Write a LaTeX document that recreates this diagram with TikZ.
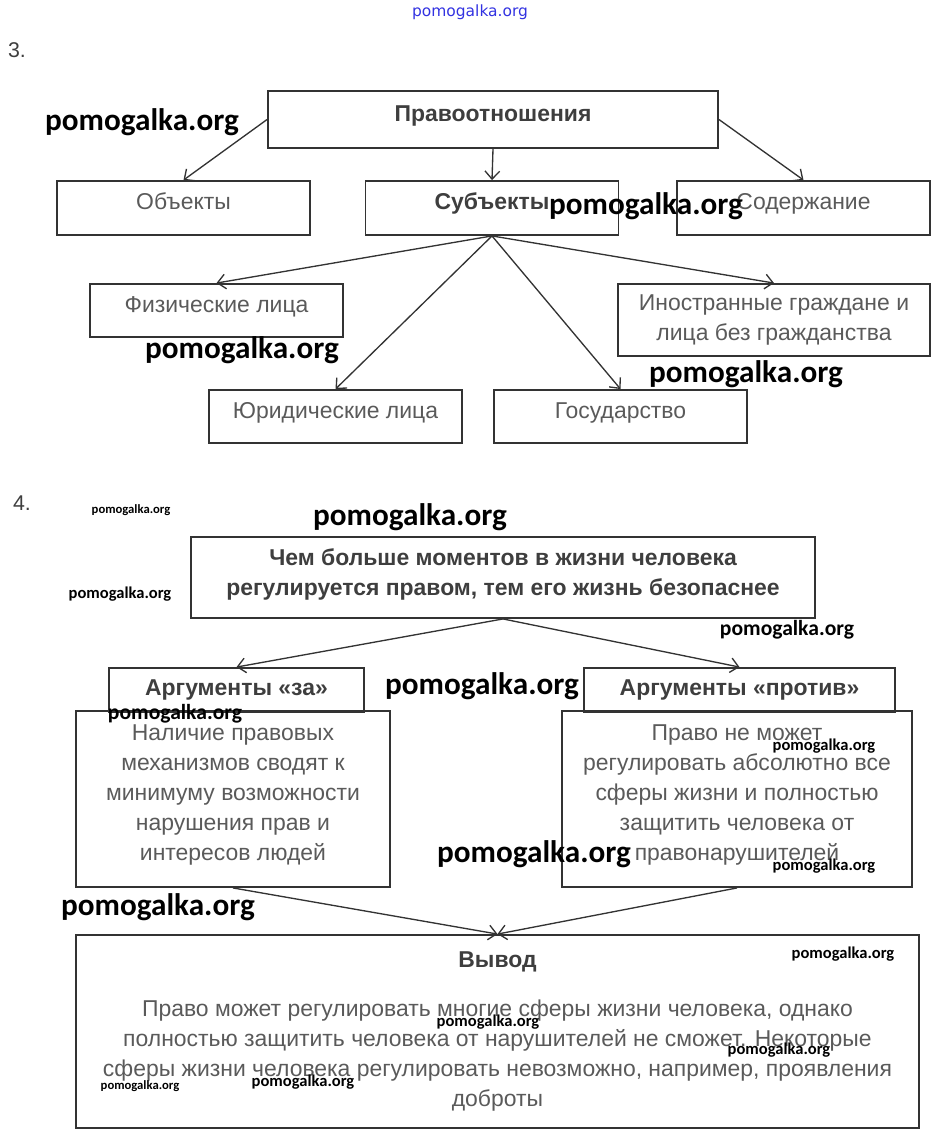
\documentclass[tikz,border=0pt]{standalone}
\usepackage{fontspec}
\setmainfont{Liberation Sans}
\newfontfamily\wmfont{Carlito}
\newfontfamily\wmtopfont{DejaVu Sans}
\usetikzlibrary{arrows.meta}
\definecolor{boxline}{RGB}{51,51,51}
\definecolor{labelgray}{RGB}{90,90,90}
\definecolor{titlegray}{RGB}{62,62,62}
\definecolor{wmblue}{RGB}{50,50,225}
\tikzstyle{box} = [rectangle, draw=boxline, line width=1.4pt, minimum width=189.75pt, minimum height=40.5pt, align=center, text=labelgray, font=\fontsize{17.2}{22.5}\selectfont, inner sep=2pt]
\tikzstyle{title} = [box, text=titlegray, font=\fontsize{17.2}{22.5}\selectfont\bfseries]
\tikzstyle{raised} = [text height=12.5pt, text depth=10pt]
\tikzstyle{arrow} = [line width=1pt, draw=boxline, -{Straight Barb[length=6pt, width=11pt]}]
\tikzstyle{wmbig} = [inner sep=0pt, font=\wmfont\bfseries\fontsize{23.4}{24}\selectfont]
\tikzstyle{wmmid} = [inner sep=0pt, font=\wmfont\bfseries\fontsize{16.2}{17}\selectfont]
\tikzstyle{wmsmall} = [inner sep=0pt, font=\wmfont\bfseries\fontsize{12.4}{13}\selectfont]
\tikzstyle{wmtiny} = [inner sep=0pt, font=\wmfont\bfseries\fontsize{9.5}{10}\selectfont]
\tikzstyle{number} = [inner sep=0pt, text=titlegray, font=\fontsize{16}{17}\selectfont]

\begin{document}
\begin{tikzpicture}[x=0.75pt, y=-0.75pt]
\useasboundingbox (0,0) rectangle (940,1138);

% task 3
\node (num3) [number] at (17,50) {3.};
\node (rel) [title, raised, minimum width=337.5pt, minimum height=42.75pt] at (493,119.5) {Правоотношения};
\node (obj) [box, raised] at (183.5,208) {Объекты};
\node (subj) [title, raised] at (492,208) {Субъекты};
\node (cont) [box, raised] at (803.5,208) {Содержание};
\node (phys) [box, raised, minimum height=39.75pt] at (216.5,310.5) {Физические лица};
\node (foreign) [box, minimum width=234pt, minimum height=54pt] at (774,320) {Иностранные граждане и\\лица без гражданства};
\node (legal) [box, raised, minimum height=39.75pt] at (335.5,416.5) {Юридические лица};
\node (state) [box, raised, minimum height=39.75pt] at (620.5,416.5) {Государство};

\draw [arrow] (rel.west) -- (obj.north);
\draw [arrow] (rel.south) -- (subj.north);
\draw [arrow] (rel.east) -- (cont.north);
\draw [arrow] (subj.south) -- (phys.north);
\draw [arrow] (subj.south) -- (legal.north);
\draw [arrow] (subj.south) -- (state.north);
\draw [arrow] (subj.south) -- (foreign.north);

% task 4
\node (num4) [number] at (22,503) {4.};
\node (claim) [title, text depth=8.5pt, minimum width=468pt, minimum height=60.75pt] at (503,577.5) {Чем больше моментов в жизни человека\\регулируется правом, тем его жизнь безопаснее};
\node (pro) [title, minimum width=191.25pt, minimum height=33pt] at (236.5,690) {Аргументы «за»};
\node (con) [title, minimum width=233.25pt, minimum height=33pt] at (739.5,690) {Аргументы «против»};
\node (proText) [box, text depth=9.5pt, minimum width=235.5pt, minimum height=132pt] at (233,799) {Наличие правовых\\механизмов сводят к\\минимуму возможности\\нарушения прав и\\интересов людей};
\node (conText) [box, text depth=9.5pt, minimum width=262.5pt, minimum height=132pt] at (737,799) {Право не может\\регулировать абсолютно все\\сферы жизни и полностью\\защитить человека от\\правонарушителей};
\node (concl) [box, minimum width=632.25pt, minimum height=144.75pt] at (497.5,1031.5) {\textbf{\textcolor{titlegray}{Вывод}}\\[14pt]Право может регулировать многие сферы жизни человека, однако\\полностью защитить человека от нарушителей не сможет. Некоторые\\сферы жизни человека регулировать невозможно, например, проявления\\доброты};

\draw [arrow] (claim.south) -- (pro.north);
\draw [arrow] (claim.south) -- (con.north);
\draw [arrow] (proText.south) -- (concl.north);
\draw [arrow] (conText.south) -- (concl.north);

% watermarks
\node (wmtop) [inner sep=0pt, text=wmblue, font=\wmtopfont\fontsize{11.6}{12}\selectfont] at (470,12) {pomogalka.org};
\foreach \wx/\wy [count=\i] in {142/122, 646/206, 242/350, 746/374, 410/517, 482/686, 534/854, 158/907}
  \node (wmbig\i) [wmbig] at (\wx,\wy) {pomogalka.org};
\foreach \wx/\wy [count=\i] in {787/630, 175/714}
  \node (wmmid\i) [wmmid] at (\wx,\wy) {pomogalka.org};
\foreach \wx/\wy [count=\i] in {120/594, 824/746, 824/866, 843/954, 488/1022, 779/1050, 303/1082}
  \node (wmsmall\i) [wmsmall] at (\wx,\wy) {pomogalka.org};
\foreach \wx/\wy [count=\i] in {131/510, 140/1086}
  \node (wmtiny\i) [wmtiny] at (\wx,\wy) {pomogalka.org};

\end{tikzpicture}
\end{document}
